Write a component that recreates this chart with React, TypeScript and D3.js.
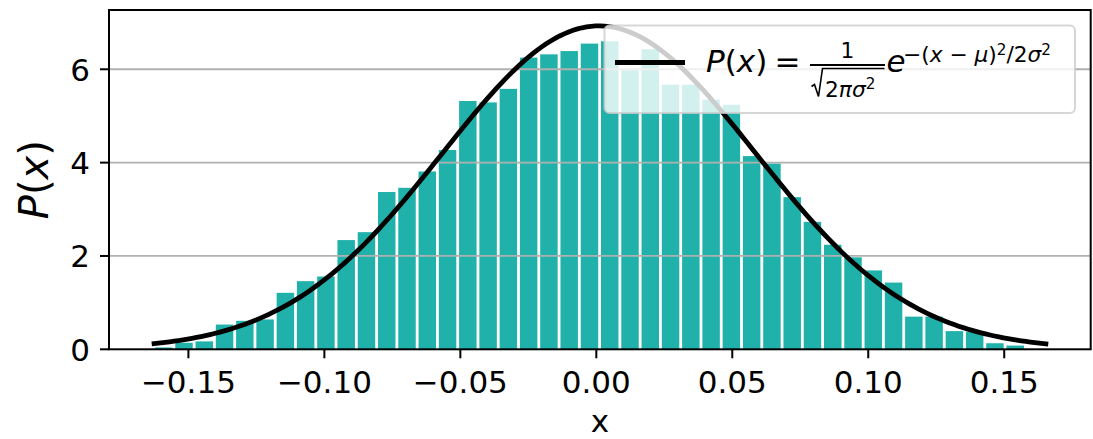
import React from 'react';
import * as d3 from 'd3';

// Histogram (density) values
const BIN_START = -0.1628;
const BIN_WIDTH = 0.007455;
const DENSITIES = [
  0.04, 0.14, 0.17, 0.53, 0.61, 0.64, 1.21, 1.46, 1.56, 2.34,
  2.51, 3.37, 3.46, 3.81, 4.27, 5.32, 5.29, 5.58, 6.25, 6.32,
  6.39, 6.55, 6.6, 5.98, 6.43, 5.67, 5.67, 5.35, 5.24, 4.14,
  3.98, 3.26, 2.73, 2.24, 1.97, 1.69, 1.43, 0.7, 0.7, 0.39,
  0.38, 0.13, 0.08,
];

// Fitted normal curve parameters (the legend formula)
const CURVE_MU = 0.001;
const CURVE_SIGMA = 0.05757;
const CURVE_X_START = -0.1635;
const CURVE_X_END = 0.1662;
const CURVE_SAMPLES = 200;

const X_TICKS = [-0.15, -0.1, -0.05, 0, 0.05, 0.1, 0.15];
const Y_TICKS = [0, 2, 4, 6];
const X_DOMAIN = [-0.1792, 0.1818];
const Y_DOMAIN = [0, 7.27];

const W = 1093;
const H = 439;
const PLOT = { left: 109, right: 1090.7, top: 10, bottom: 349.3 };
const FONT = "'DejaVu Sans', sans-serif";
const BAR_COLOR = '#20B2AA';

export default function App() {
  const xs = d3.scaleLinear().domain(X_DOMAIN).range([PLOT.left, PLOT.right]);
  const ys = d3.scaleLinear().domain(Y_DOMAIN).range([PLOT.bottom, PLOT.top]);

  const pdf = (x: number) =>
    Math.exp(-((x - CURVE_MU) ** 2) / (2 * CURVE_SIGMA ** 2)) /
    Math.sqrt(2 * Math.PI * CURVE_SIGMA ** 2);
  const curveXs = d3.range(CURVE_SAMPLES + 1).map(
    (i) => CURVE_X_START + ((CURVE_X_END - CURVE_X_START) * i) / CURVE_SAMPLES
  );
  const line = d3
    .line<number>()
    .x((d) => xs(d))
    .y((d) => ys(pdf(d)));

  const fmtX = (v: number) => d3.format('.2f')(v).replace('-', '\u2212');
  const inset = 1.4;

  // legend geometry
  const LG = { x: 604.5, y: 25.5, w: 470.5, h: 87.5 };
  const mainSize = 31;
  const supSize = 21.7;
  const subSupSize = 15.2;

  return (
    <svg
      width={W}
      height={H}
      viewBox={`0 0 ${W} ${H}`}
      style={{ position: 'absolute', left: 0, top: 0, background: '#fff' }}
      fontFamily={FONT}
    >
      <rect x={0} y={0} width={W} height={H} fill="#fff" />
      {/* bars */}
      <g>
        {DENSITIES.map((d, i) => {
          const x0 = BIN_START + i * BIN_WIDTH;
          const x1 = x0 + BIN_WIDTH;
          return (
            <rect
              key={i}
              x={xs(x0) + inset}
              y={ys(d)}
              width={xs(x1) - xs(x0) - 2 * inset}
              height={ys(0) - ys(d)}
              fill={BAR_COLOR}
            />
          );
        })}
      </g>
      {/* grid */}
      <g>
        {Y_TICKS.filter((t) => t > 0).map((t) => (
          <line
            key={t}
            x1={PLOT.left}
            x2={PLOT.right}
            y1={ys(t)}
            y2={ys(t)}
            stroke="#b0b0b0"
            strokeWidth={1.8}
          />
        ))}
      </g>
      {/* curve */}
      <path d={line(curveXs) || ''} fill="none" stroke="#000" strokeWidth={4.8} />
      {/* spines */}
      <rect
        x={PLOT.left}
        y={PLOT.top}
        width={PLOT.right - PLOT.left}
        height={PLOT.bottom - PLOT.top}
        fill="none"
        stroke="#000"
        strokeWidth={2}
      />
      {/* x ticks */}
      <g>
        {X_TICKS.map((t) => (
          <g key={t}>
            <line x1={xs(t)} x2={xs(t)} y1={PLOT.bottom} y2={PLOT.bottom + 9} stroke="#000" strokeWidth={2} />
            <text x={xs(t)} y={393.3} textAnchor="middle" fontSize={31} fill="#000">
              {fmtX(t)}
            </text>
          </g>
        ))}
      </g>
      {/* y ticks */}
      <g>
        {Y_TICKS.map((t) => (
          <g key={t}>
            <line x1={PLOT.left - 9} x2={PLOT.left} y1={ys(t)} y2={ys(t)} stroke="#000" strokeWidth={2} />
            <text x={90} y={ys(t) + 11.5} textAnchor="end" fontSize={31} fill="#000">
              {String(t)}
            </text>
          </g>
        ))}
      </g>
      {/* axis labels */}
      <text x={(PLOT.left + PLOT.right) / 2} y={431.5} textAnchor="middle" fontSize={31} fill="#000">
        x
      </text>
      <text
        transform={`translate(48, ${(PLOT.top + PLOT.bottom) / 2}) rotate(-90)`}
        textAnchor="middle"
        fontSize={40}
        fill="#000"
      >
        <tspan fontStyle="italic">P</tspan>
        <tspan>(</tspan>
        <tspan fontStyle="italic">x</tspan>
        <tspan>)</tspan>
      </text>
      {/* legend */}
      <g>
        <rect
          x={LG.x}
          y={LG.y}
          width={LG.w}
          height={LG.h}
          rx={5}
          fill="#fff"
          fillOpacity={0.8}
          stroke="#cccccc"
          strokeOpacity={0.8}
          strokeWidth={2}
        />
        <line x1={LG.x + 10.5} x2={LG.x + 80.5} y1={LG.y + 37} y2={LG.y + 37} stroke="#000" strokeWidth={4.8} />
        <text x={LG.x + 101.5} y={LG.y + 46.5} fontSize={mainSize} fill="#000">
          <tspan fontStyle="italic">P</tspan>
          <tspan>(</tspan>
          <tspan fontStyle="italic">x</tspan>
          <tspan>)</tspan>
        </text>
        <text x={LG.x + 170} y={LG.y + 46.5} fontSize={mainSize} fill="#000">
          =
        </text>
        {/* fraction */}
        <text x={LG.x + 243} y={LG.y + 32.5} fontSize={supSize} textAnchor="middle" fill="#000">
          1
        </text>
        <line x1={LG.x + 205.5} x2={LG.x + 280.5} y1={LG.y + 39.5} y2={LG.y + 39.5} stroke="#000" strokeWidth={2} />
        <path
          d={`M${LG.x + 207},${LG.y + 61} L${LG.x + 210},${LG.y + 59} L${LG.x + 214},${LG.y + 71} L${LG.x + 218},${LG.y + 43} L${LG.x + 280},${LG.y + 43}`}
          fill="none"
          stroke="#000"
          strokeWidth={1.6}
        />
        <text x={LG.x + 220.5} y={LG.y + 71} fontSize={supSize} fill="#000">
          <tspan>2</tspan>
          <tspan fontStyle="italic">π</tspan>
          <tspan fontStyle="italic">σ</tspan>
          <tspan fontSize={subSupSize} dy={-8}>2</tspan>
        </text>
        {/* exponential */}
        <text x={LG.x + 282} y={LG.y + 46.5} fontSize={mainSize} fontStyle="italic" fill="#000">
          e
        </text>
        <text x={LG.x + 298.5} y={LG.y + 36} fontSize={supSize} fill="#000">
          <tspan>{'\u2212('}</tspan>
          <tspan fontStyle="italic">x</tspan>
          <tspan>{' \u2212 '}</tspan>
          <tspan fontStyle="italic">μ</tspan>
          <tspan>)</tspan>
          <tspan fontSize={subSupSize} dy={-7}>2</tspan>
          <tspan dy={7}>/2</tspan>
          <tspan fontStyle="italic">σ</tspan>
          <tspan fontSize={subSupSize} dy={-7}>2</tspan>
        </text>
      </g>
    </svg>
  );
}
